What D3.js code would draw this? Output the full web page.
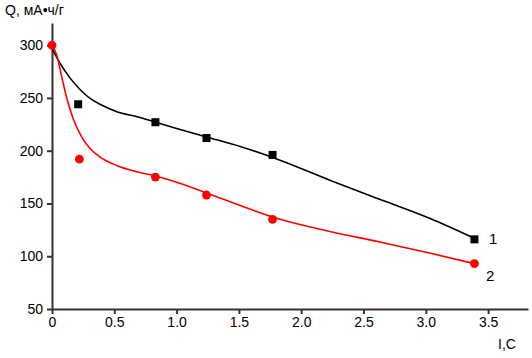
<!DOCTYPE html>
<html>
<head>
<meta charset="utf-8">
<script src="https://cdn.jsdelivr.net/npm/d3@7"></script>
<style>
  body { margin: 0; background: #fff; }
  text { font-family: "Liberation Sans", Arial, sans-serif; }
</style>
</head>
<body>
<div id="chart"></div>
<script>
// Measured points (discharge rate I, C  ->  capacity Q, mAh/g)
var xPts = [0.21, 0.83, 1.24, 1.77, 3.39];
var q1 = [244, 227, 212, 196, 116];
var xPts2 = [0, 0.22, 0.83, 1.24, 1.77, 3.39];
var q2 = [300, 192, 175, 158, 135, 93];

// Fitted curves
var curveX1 = [0, 0.03, 0.064, 0.144, 0.225, 0.3, 0.385, 0.52, 0.69, 0.83, 1.0, 1.24, 1.51, 1.83, 2.23, 2.63, 3.03, 3.39];
var curveY1 = [297, 290, 283, 269, 258, 250, 244, 237, 232, 227, 221, 213, 204, 191, 172, 154, 136, 117];
var curveX2 = [0, 0.037, 0.078, 0.118, 0.171, 0.238, 0.305, 0.385, 0.52, 0.68, 0.83, 1.0, 1.24, 1.51, 1.83, 2.23, 2.63, 3.03, 3.39];
var curveY2 = [300, 291, 270, 250, 230, 213, 202, 194, 186, 180, 176, 170, 160, 148, 135, 123.5, 113.5, 103, 93];

var xTicks = [0, 0.5, 1.0, 1.5, 2.0, 2.5, 3.0, 3.5];
var xTickLabels = ["0", "0.5", "1.0", "1.5", "2.0", "2.5", "3.0", "3.5"];
var yTicks = [50, 100, 150, 200, 250, 300];

var width = 532, height = 358;

var svg = d3.select("#chart")
    .append("svg")
    .attr("width", width)
    .attr("height", height);

var x = d3.scaleLinear().domain([0, 3.82]).range([52, 528]);
var y = d3.scaleLinear().domain([50, 321]).range([309, 23]);

// axes
var xAxis = d3.axisBottom(x)
    .tickValues(xTicks)
    .tickFormat((d, i) => xTickLabels[i])
    .tickSizeInner(5)
    .tickSizeOuter(0)
    .tickPadding(3);
var yAxis = d3.axisLeft(y)
    .tickValues(yTicks)
    .tickSizeInner(5)
    .tickSizeOuter(0)
    .tickPadding(4);

var gx = svg.append("g").attr("transform", "translate(0," + y(50) + ")").call(xAxis);
var gy = svg.append("g").attr("transform", "translate(" + x(0) + ",0)").call(yAxis);

[gx, gy].forEach(g => {
    g.select(".domain").attr("stroke", "#333").attr("stroke-width", 2);
    g.selectAll(".tick line").attr("stroke", "#333").attr("stroke-width", 2);
    g.selectAll(".tick text")
        .attr("fill", "#000")
        .attr("font-size", "14px")
        .attr("font-family", "Liberation Sans, Arial, sans-serif");
});

// curves
var line = d3.line()
    .x(d => x(d[0]))
    .y(d => y(d[1]))
    .curve(d3.curveMonotoneX);

svg.append("path")
    .datum(curveX1.map((v, i) => [v, curveY1[i]]))
    .attr("d", line)
    .attr("fill", "none")
    .attr("stroke", "#000")
    .attr("stroke-width", 1.6);

svg.append("path")
    .datum(curveX2.map((v, i) => [v, curveY2[i]]))
    .attr("d", line)
    .attr("fill", "none")
    .attr("stroke", "#ff0000")
    .attr("stroke-width", 1.6);

// markers
svg.selectAll(".sq")
    .data(xPts.map((v, i) => [v, q1[i]]))
    .enter()
    .append("rect")
    .attr("x", d => x(d[0]) - 4)
    .attr("y", d => y(d[1]) - 4)
    .attr("width", 8)
    .attr("height", 8)
    .attr("fill", "#000");

svg.selectAll(".dot")
    .data(xPts2.map((v, i) => [v, q2[i]]))
    .enter()
    .append("circle")
    .attr("cx", d => x(d[0]))
    .attr("cy", d => y(d[1]))
    .attr("r", 4.4)
    .attr("fill", "#ff0000");

// labels
svg.append("text").attr("x", 5).attr("y", 15).attr("font-size", "14px").text("Q, мА•ч/г");
svg.append("text").attr("x", 498).attr("y", 349).attr("font-size", "14px").text("I,C");
svg.append("text").attr("x", 489).attr("y", 244).attr("font-size", "15px").text("1");
svg.append("text").attr("x", 486).attr("y", 281).attr("font-size", "15px").text("2");
</script>
</body>
</html>
